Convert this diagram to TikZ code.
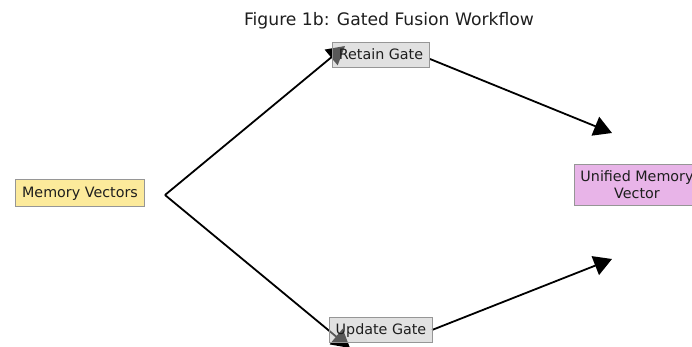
\documentclass[tikz,border=0pt]{standalone}
\usepackage{fontspec}
\setmainfont{DejaVu Sans}
\usetikzlibrary{arrows.meta,backgrounds}
\definecolor{memfill}{RGB}{252,234,155}
\definecolor{unifill}{RGB}{232,180,232}
\definecolor{edgegray}{RGB}{150,150,150}
\definecolor{txt}{RGB}{30,30,30}
\tikzset{
  box/.style={draw=edgegray, line width=0.9pt, text=txt, font=\fontsize{14.3}{16.7}\selectfont,
    inner xsep=6.5pt, inner ysep=5pt, text height=13.3pt, text depth=3.6pt, align=center},
  gatebox/.style={box, fill=black!25, fill opacity=0.47, text opacity=1, draw opacity=1},
  conn/.style={line width=1.8pt, black, -{Triangle[length=18pt,width=20pt]}},
}
\begin{document}
\begin{tikzpicture}[x=1pt,y=-1pt]
\useasboundingbox (0,0) rectangle (692,347);
\node[font=\fontsize{17.2}{20}\selectfont, text=txt, anchor=base] (title) at (389,26) {Figure 1b: Gated Fusion Workflow};
\node[box, fill=memfill] (mem) at (80,193) {Memory Vectors};
\node[gatebox, inner ysep=4.2pt] (retain) at (381,55) {Retain Gate};
\node[gatebox, inner ysep=4.2pt] (update) at (381,330) {Update Gate};
\node[box, fill=unifill, text height=, text depth=, inner ysep=7pt] (uni) at (637,185) {Unified Memory\\Vector};
\coordinate (split) at (165,195);
\coordinate (rtip) at (345,46);
\coordinate (utip) at (350,348);
\coordinate (rout) at (430,59);
\coordinate (uout) at (432,330);
\coordinate (f1) at (612,133);
\coordinate (f2) at (612,259);
\begin{scope}[on background layer]
\draw[conn] (split) -- (rtip);
\draw[conn] (split) -- (utip);
\draw[conn] (rout) -- (f1);
\draw[conn] (uout) -- (f2);
\end{scope}
\end{tikzpicture}
\end{document}
